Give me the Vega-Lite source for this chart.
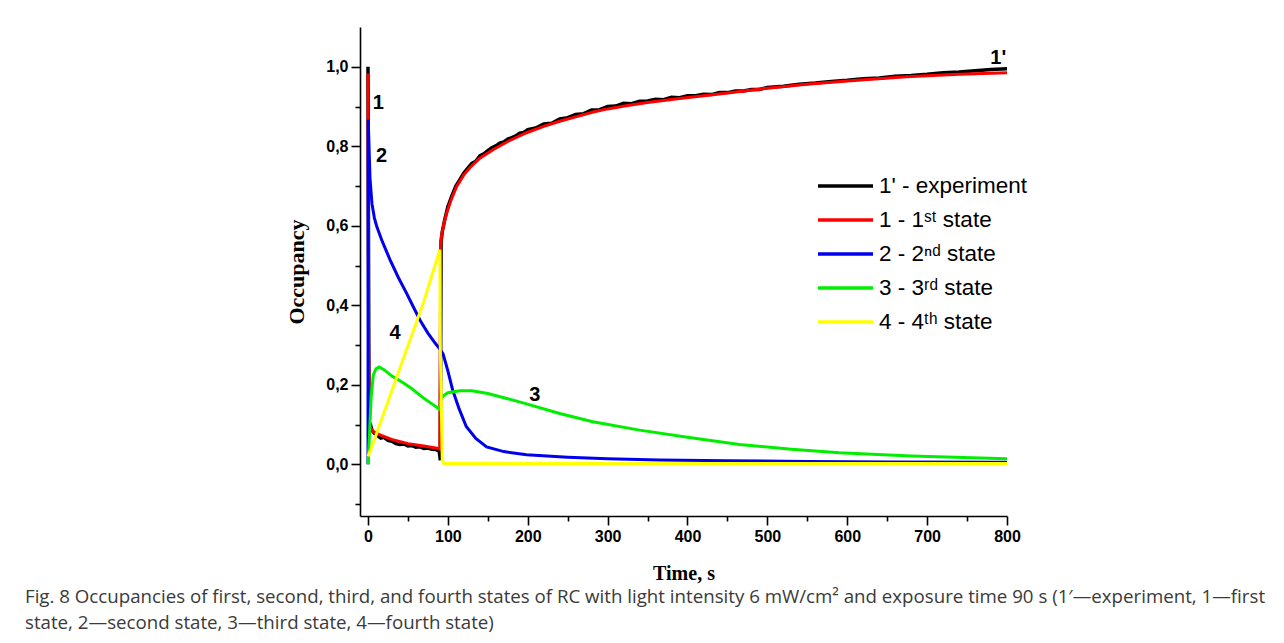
{
  "$schema": "https://vega.github.io/schema/vega-lite/v6.json",
  "autosize": "none",
  "width": 647,
  "height": 489,
  "padding": {"left": 360, "top": 27, "right": 277, "bottom": 127},
  "background": "white",
  "config": {
    "view": {"stroke": null},
    "axis": {"grid": false, "domainColor": "black", "domainWidth": 1.6, "tickColor": "black", "tickWidth": 1.6, "labelColor": "black", "titleColor": "black"}
  },
  "title": {
    "text": [
      "Fig. 8 Occupancies of first, second, third, and fourth states of RC with light intensity 6 mW/cm\u00b2 and exposure time 90 s (1\u2032\u2014experiment, 1\u2014first",
      "state, 2\u2014second state, 3\u2014third state, 4\u2014fourth state)"
    ],
    "orient": "bottom",
    "anchor": "start",
    "frame": "group",
    "dx": -335,
    "offset": 5,
    "font": "Open Sans",
    "fontSize": 18.7,
    "fontWeight": "normal",
    "color": "#3a3a3a",
    "lineHeight": 26
  },
  "datasets": {
    "exp": [
      {"series": "1' - experiment", "t": 0, "v": 1.0},
      {"series": "1' - experiment", "t": 1, "v": 0.3},
      {"series": "1' - experiment", "t": 1.5, "v": 0.105},
      {"series": "1' - experiment", "t": 3, "v": 0.1},
      {"series": "1' - experiment", "t": 5, "v": 0.085},
      {"series": "1' - experiment", "t": 8, "v": 0.078},
      {"series": "1' - experiment", "t": 12, "v": 0.072},
      {"series": "1' - experiment", "t": 16, "v": 0.066},
      {"series": "1' - experiment", "t": 20, "v": 0.068},
      {"series": "1' - experiment", "t": 25, "v": 0.06},
      {"series": "1' - experiment", "t": 30, "v": 0.058},
      {"series": "1' - experiment", "t": 35, "v": 0.052},
      {"series": "1' - experiment", "t": 40, "v": 0.05},
      {"series": "1' - experiment", "t": 45, "v": 0.051},
      {"series": "1' - experiment", "t": 50, "v": 0.046},
      {"series": "1' - experiment", "t": 55, "v": 0.047},
      {"series": "1' - experiment", "t": 60, "v": 0.043},
      {"series": "1' - experiment", "t": 65, "v": 0.044},
      {"series": "1' - experiment", "t": 70, "v": 0.04},
      {"series": "1' - experiment", "t": 75, "v": 0.041},
      {"series": "1' - experiment", "t": 80, "v": 0.038},
      {"series": "1' - experiment", "t": 85, "v": 0.037},
      {"series": "1' - experiment", "t": 89, "v": 0.034},
      {"series": "1' - experiment", "t": 90, "v": 0.02},
      {"series": "1' - experiment", "t": 90.5, "v": 0.01},
      {"series": "1' - experiment", "t": 91, "v": 0.3},
      {"series": "1' - experiment", "t": 91.5, "v": 0.56},
      {"series": "1' - experiment", "t": 93, "v": 0.585},
      {"series": "1' - experiment", "t": 96, "v": 0.615},
      {"series": "1' - experiment", "t": 100, "v": 0.648},
      {"series": "1' - experiment", "t": 105, "v": 0.675},
      {"series": "1' - experiment", "t": 110, "v": 0.7},
      {"series": "1' - experiment", "t": 115, "v": 0.716},
      {"series": "1' - experiment", "t": 120, "v": 0.733},
      {"series": "1' - experiment", "t": 125, "v": 0.745},
      {"series": "1' - experiment", "t": 130, "v": 0.757},
      {"series": "1' - experiment", "t": 135, "v": 0.762},
      {"series": "1' - experiment", "t": 140, "v": 0.776},
      {"series": "1' - experiment", "t": 145, "v": 0.781},
      {"series": "1' - experiment", "t": 150, "v": 0.789},
      {"series": "1' - experiment", "t": 155, "v": 0.796},
      {"series": "1' - experiment", "t": 160, "v": 0.801},
      {"series": "1' - experiment", "t": 165, "v": 0.808},
      {"series": "1' - experiment", "t": 170, "v": 0.811},
      {"series": "1' - experiment", "t": 175, "v": 0.818},
      {"series": "1' - experiment", "t": 180, "v": 0.822},
      {"series": "1' - experiment", "t": 185, "v": 0.826},
      {"series": "1' - experiment", "t": 190, "v": 0.833},
      {"series": "1' - experiment", "t": 195, "v": 0.835},
      {"series": "1' - experiment", "t": 200, "v": 0.842},
      {"series": "1' - experiment", "t": 210, "v": 0.846},
      {"series": "1' - experiment", "t": 220, "v": 0.856},
      {"series": "1' - experiment", "t": 230, "v": 0.858},
      {"series": "1' - experiment", "t": 240, "v": 0.869},
      {"series": "1' - experiment", "t": 250, "v": 0.872},
      {"series": "1' - experiment", "t": 260, "v": 0.88},
      {"series": "1' - experiment", "t": 270, "v": 0.882},
      {"series": "1' - experiment", "t": 280, "v": 0.891},
      {"series": "1' - experiment", "t": 290, "v": 0.892},
      {"series": "1' - experiment", "t": 300, "v": 0.9},
      {"series": "1' - experiment", "t": 310, "v": 0.901},
      {"series": "1' - experiment", "t": 320, "v": 0.908},
      {"series": "1' - experiment", "t": 330, "v": 0.907},
      {"series": "1' - experiment", "t": 340, "v": 0.913},
      {"series": "1' - experiment", "t": 350, "v": 0.914},
      {"series": "1' - experiment", "t": 360, "v": 0.918},
      {"series": "1' - experiment", "t": 370, "v": 0.917},
      {"series": "1' - experiment", "t": 380, "v": 0.923},
      {"series": "1' - experiment", "t": 390, "v": 0.922},
      {"series": "1' - experiment", "t": 400, "v": 0.927},
      {"series": "1' - experiment", "t": 410, "v": 0.927},
      {"series": "1' - experiment", "t": 420, "v": 0.931},
      {"series": "1' - experiment", "t": 430, "v": 0.93},
      {"series": "1' - experiment", "t": 440, "v": 0.935},
      {"series": "1' - experiment", "t": 450, "v": 0.935},
      {"series": "1' - experiment", "t": 460, "v": 0.939},
      {"series": "1' - experiment", "t": 470, "v": 0.939},
      {"series": "1' - experiment", "t": 480, "v": 0.943},
      {"series": "1' - experiment", "t": 490, "v": 0.943},
      {"series": "1' - experiment", "t": 500, "v": 0.948},
      {"series": "1' - experiment", "t": 520, "v": 0.951},
      {"series": "1' - experiment", "t": 540, "v": 0.956},
      {"series": "1' - experiment", "t": 560, "v": 0.959},
      {"series": "1' - experiment", "t": 580, "v": 0.963},
      {"series": "1' - experiment", "t": 600, "v": 0.966},
      {"series": "1' - experiment", "t": 620, "v": 0.97},
      {"series": "1' - experiment", "t": 640, "v": 0.972},
      {"series": "1' - experiment", "t": 660, "v": 0.976},
      {"series": "1' - experiment", "t": 680, "v": 0.978},
      {"series": "1' - experiment", "t": 700, "v": 0.981},
      {"series": "1' - experiment", "t": 720, "v": 0.985},
      {"series": "1' - experiment", "t": 740, "v": 0.987},
      {"series": "1' - experiment", "t": 760, "v": 0.99},
      {"series": "1' - experiment", "t": 780, "v": 0.993},
      {"series": "1' - experiment", "t": 800, "v": 0.995}
    ],
    "s1": [
      {"series": "1 - 1\u02e2\u1d57 state", "t": 0, "v": 0.983},
      {"series": "1 - 1\u02e2\u1d57 state", "t": 0.8, "v": 0.3},
      {"series": "1 - 1\u02e2\u1d57 state", "t": 1.5, "v": 0.1},
      {"series": "1 - 1\u02e2\u1d57 state", "t": 3, "v": 0.092},
      {"series": "1 - 1\u02e2\u1d57 state", "t": 6.7, "v": 0.082},
      {"series": "1 - 1\u02e2\u1d57 state", "t": 15, "v": 0.074},
      {"series": "1 - 1\u02e2\u1d57 state", "t": 32, "v": 0.061},
      {"series": "1 - 1\u02e2\u1d57 state", "t": 50, "v": 0.052},
      {"series": "1 - 1\u02e2\u1d57 state", "t": 70, "v": 0.046},
      {"series": "1 - 1\u02e2\u1d57 state", "t": 88, "v": 0.04},
      {"series": "1 - 1\u02e2\u1d57 state", "t": 90, "v": 0.038},
      {"series": "1 - 1\u02e2\u1d57 state", "t": 90.5, "v": 0.3},
      {"series": "1 - 1\u02e2\u1d57 state", "t": 91, "v": 0.55},
      {"series": "1 - 1\u02e2\u1d57 state", "t": 92, "v": 0.575},
      {"series": "1 - 1\u02e2\u1d57 state", "t": 95, "v": 0.605},
      {"series": "1 - 1\u02e2\u1d57 state", "t": 98.5, "v": 0.632},
      {"series": "1 - 1\u02e2\u1d57 state", "t": 104, "v": 0.665},
      {"series": "1 - 1\u02e2\u1d57 state", "t": 111, "v": 0.699},
      {"series": "1 - 1\u02e2\u1d57 state", "t": 120, "v": 0.728},
      {"series": "1 - 1\u02e2\u1d57 state", "t": 127.5, "v": 0.746},
      {"series": "1 - 1\u02e2\u1d57 state", "t": 140, "v": 0.77},
      {"series": "1 - 1\u02e2\u1d57 state", "t": 157, "v": 0.792},
      {"series": "1 - 1\u02e2\u1d57 state", "t": 175, "v": 0.812},
      {"series": "1 - 1\u02e2\u1d57 state", "t": 198.5, "v": 0.834},
      {"series": "1 - 1\u02e2\u1d57 state", "t": 220, "v": 0.85},
      {"series": "1 - 1\u02e2\u1d57 state", "t": 240, "v": 0.863},
      {"series": "1 - 1\u02e2\u1d57 state", "t": 260, "v": 0.874},
      {"series": "1 - 1\u02e2\u1d57 state", "t": 282, "v": 0.886},
      {"series": "1 - 1\u02e2\u1d57 state", "t": 300, "v": 0.894},
      {"series": "1 - 1\u02e2\u1d57 state", "t": 323, "v": 0.902},
      {"series": "1 - 1\u02e2\u1d57 state", "t": 350, "v": 0.91},
      {"series": "1 - 1\u02e2\u1d57 state", "t": 390, "v": 0.92},
      {"series": "1 - 1\u02e2\u1d57 state", "t": 445, "v": 0.933},
      {"series": "1 - 1\u02e2\u1d57 state", "t": 500, "v": 0.946},
      {"series": "1 - 1\u02e2\u1d57 state", "t": 549, "v": 0.956},
      {"series": "1 - 1\u02e2\u1d57 state", "t": 600, "v": 0.964},
      {"series": "1 - 1\u02e2\u1d57 state", "t": 674, "v": 0.975},
      {"series": "1 - 1\u02e2\u1d57 state", "t": 740, "v": 0.981},
      {"series": "1 - 1\u02e2\u1d57 state", "t": 800, "v": 0.985}
    ],
    "s2": [
      {"series": "2 - 2\u207f\u1d48 state", "t": 0, "v": 0.0},
      {"series": "2 - 2\u207f\u1d48 state", "t": 0.3, "v": 0.867},
      {"series": "2 - 2\u207f\u1d48 state", "t": 1, "v": 0.82},
      {"series": "2 - 2\u207f\u1d48 state", "t": 2.5, "v": 0.72},
      {"series": "2 - 2\u207f\u1d48 state", "t": 5, "v": 0.655},
      {"series": "2 - 2\u207f\u1d48 state", "t": 8, "v": 0.62},
      {"series": "2 - 2\u207f\u1d48 state", "t": 11, "v": 0.598},
      {"series": "2 - 2\u207f\u1d48 state", "t": 18, "v": 0.56},
      {"series": "2 - 2\u207f\u1d48 state", "t": 27.5, "v": 0.515},
      {"series": "2 - 2\u207f\u1d48 state", "t": 38, "v": 0.47},
      {"series": "2 - 2\u207f\u1d48 state", "t": 48.4, "v": 0.43},
      {"series": "2 - 2\u207f\u1d48 state", "t": 57, "v": 0.395},
      {"series": "2 - 2\u207f\u1d48 state", "t": 65, "v": 0.363},
      {"series": "2 - 2\u207f\u1d48 state", "t": 75, "v": 0.33},
      {"series": "2 - 2\u207f\u1d48 state", "t": 84, "v": 0.305},
      {"series": "2 - 2\u207f\u1d48 state", "t": 90, "v": 0.29},
      {"series": "2 - 2\u207f\u1d48 state", "t": 94, "v": 0.278},
      {"series": "2 - 2\u207f\u1d48 state", "t": 100, "v": 0.235},
      {"series": "2 - 2\u207f\u1d48 state", "t": 106, "v": 0.187},
      {"series": "2 - 2\u207f\u1d48 state", "t": 114, "v": 0.14},
      {"series": "2 - 2\u207f\u1d48 state", "t": 123, "v": 0.095},
      {"series": "2 - 2\u207f\u1d48 state", "t": 135, "v": 0.065},
      {"series": "2 - 2\u207f\u1d48 state", "t": 148.5, "v": 0.044},
      {"series": "2 - 2\u207f\u1d48 state", "t": 170, "v": 0.032},
      {"series": "2 - 2\u207f\u1d48 state", "t": 198.5, "v": 0.024},
      {"series": "2 - 2\u207f\u1d48 state", "t": 250, "v": 0.018},
      {"series": "2 - 2\u207f\u1d48 state", "t": 300, "v": 0.014},
      {"series": "2 - 2\u207f\u1d48 state", "t": 365, "v": 0.011},
      {"series": "2 - 2\u207f\u1d48 state", "t": 450, "v": 0.009},
      {"series": "2 - 2\u207f\u1d48 state", "t": 550, "v": 0.007},
      {"series": "2 - 2\u207f\u1d48 state", "t": 650, "v": 0.006},
      {"series": "2 - 2\u207f\u1d48 state", "t": 800, "v": 0.005}
    ],
    "s3": [
      {"series": "3 - 3\u02b3\u1d48 state", "t": 0, "v": 0.0},
      {"series": "3 - 3\u02b3\u1d48 state", "t": 2, "v": 0.08},
      {"series": "3 - 3\u02b3\u1d48 state", "t": 4, "v": 0.17},
      {"series": "3 - 3\u02b3\u1d48 state", "t": 6.7, "v": 0.225},
      {"series": "3 - 3\u02b3\u1d48 state", "t": 10, "v": 0.24},
      {"series": "3 - 3\u02b3\u1d48 state", "t": 14, "v": 0.245},
      {"series": "3 - 3\u02b3\u1d48 state", "t": 20, "v": 0.238},
      {"series": "3 - 3\u02b3\u1d48 state", "t": 30, "v": 0.222},
      {"series": "3 - 3\u02b3\u1d48 state", "t": 44, "v": 0.205},
      {"series": "3 - 3\u02b3\u1d48 state", "t": 55, "v": 0.19},
      {"series": "3 - 3\u02b3\u1d48 state", "t": 70, "v": 0.166},
      {"series": "3 - 3\u02b3\u1d48 state", "t": 80, "v": 0.152},
      {"series": "3 - 3\u02b3\u1d48 state", "t": 90, "v": 0.138},
      {"series": "3 - 3\u02b3\u1d48 state", "t": 91, "v": 0.16},
      {"series": "3 - 3\u02b3\u1d48 state", "t": 94, "v": 0.172},
      {"series": "3 - 3\u02b3\u1d48 state", "t": 100, "v": 0.18},
      {"series": "3 - 3\u02b3\u1d48 state", "t": 115, "v": 0.185},
      {"series": "3 - 3\u02b3\u1d48 state", "t": 130, "v": 0.185},
      {"series": "3 - 3\u02b3\u1d48 state", "t": 150, "v": 0.178},
      {"series": "3 - 3\u02b3\u1d48 state", "t": 175, "v": 0.165},
      {"series": "3 - 3\u02b3\u1d48 state", "t": 198.5, "v": 0.152},
      {"series": "3 - 3\u02b3\u1d48 state", "t": 240, "v": 0.128},
      {"series": "3 - 3\u02b3\u1d48 state", "t": 281.5, "v": 0.107},
      {"series": "3 - 3\u02b3\u1d48 state", "t": 340, "v": 0.086},
      {"series": "3 - 3\u02b3\u1d48 state", "t": 400, "v": 0.068},
      {"series": "3 - 3\u02b3\u1d48 state", "t": 465, "v": 0.05},
      {"series": "3 - 3\u02b3\u1d48 state", "t": 530, "v": 0.038},
      {"series": "3 - 3\u02b3\u1d48 state", "t": 590, "v": 0.029},
      {"series": "3 - 3\u02b3\u1d48 state", "t": 680, "v": 0.021},
      {"series": "3 - 3\u02b3\u1d48 state", "t": 800, "v": 0.014}
    ],
    "s4": [
      {"series": "4 - 4\u1d57\u02b0 state", "t": 0, "v": 0.02},
      {"series": "4 - 4\u1d57\u02b0 state", "t": 5, "v": 0.045},
      {"series": "4 - 4\u1d57\u02b0 state", "t": 20, "v": 0.13},
      {"series": "4 - 4\u1d57\u02b0 state", "t": 45, "v": 0.27},
      {"series": "4 - 4\u1d57\u02b0 state", "t": 70, "v": 0.41},
      {"series": "4 - 4\u1d57\u02b0 state", "t": 90, "v": 0.54},
      {"series": "4 - 4\u1d57\u02b0 state", "t": 90.5, "v": 0.3},
      {"series": "4 - 4\u1d57\u02b0 state", "t": 93, "v": 0.01},
      {"series": "4 - 4\u1d57\u02b0 state", "t": 95, "v": 0.002},
      {"series": "4 - 4\u1d57\u02b0 state", "t": 800, "v": 0.002}
    ],
    "labels": [
      {"t": 13, "v": 0.91, "label": "1"},
      {"t": 17, "v": 0.775, "label": "2"},
      {"t": 34, "v": 0.33, "label": "4"},
      {"t": 209, "v": 0.175, "label": "3"},
      {"t": 789, "v": 1.023, "label": "1'"}
    ]
  },
  "encoding": {
    "x": {
      "field": "t", "type": "quantitative",
      "scale": {"domain": [-10, 800], "nice": false, "zero": false},
      "axis": {
        "title": "Time, s",
        "titleFont": "Liberation Serif", "titleFontSize": 20, "titleFontWeight": "bold", "titlePadding": 19,
        "values": [0, 50, 100, 150, 200, 250, 300, 350, 400, 450, 500, 550, 600, 650, 700, 750, 800],
        "labelExpr": "datum.value % 100 == 0 ? datum.label : ''",
        "labelFont": "Liberation Sans", "labelFontSize": 16, "labelFontWeight": "bold", "labelPadding": 3,
        "labelOverlap": false, "labelFlush": false,
        "tickSize": {"condition": {"test": "datum.value % 100 == 0", "value": 9}, "value": 5}
      }
    },
    "y": {
      "field": "v", "type": "quantitative",
      "scale": {"domain": [-0.13, 1.1], "nice": false, "zero": false},
      "axis": {
        "title": "Occupancy",
        "titleFont": "Liberation Serif", "titleFontSize": 22, "titleFontWeight": "bold", "titlePadding": 17,
        "values": [-0.1, 0, 0.1, 0.2, 0.3, 0.4, 0.5, 0.6, 0.7, 0.8, 0.9, 1.0],
        "labelExpr": "abs(round(datum.value*10)) % 2 == 0 ? replace(format(datum.value, '.1f'), '.', ',') : ''",
        "labelFont": "Liberation Sans", "labelFontSize": 16, "labelFontWeight": "bold", "labelPadding": 3,
        "labelOverlap": false, "labelFlush": false,
        "tickSize": {"condition": {"test": "abs(round(datum.value*10)) % 2 == 0", "value": 9}, "value": 5}
      }
    }
  },
  "layer": [
    {
      "data": {"name": "exp"},
      "mark": {"type": "line", "strokeWidth": 3.5, "clip": true},
      "encoding": {
        "color": {
          "field": "series", "type": "nominal",
          "scale": {
            "domain": ["1' - experiment", "1 - 1\u02e2\u1d57 state", "2 - 2\u207f\u1d48 state", "3 - 3\u02b3\u1d48 state", "4 - 4\u1d57\u02b0 state"],
            "range": ["#000000", "#ff0000", "#0000ee", "#00ee00", "#ffff00"]
          },
          "legend": {
            "title": null, "orient": "none", "legendX": 456, "legendY": 148,
            "symbolType": "stroke", "symbolSize": 3025, "symbolStrokeWidth": 3.5,
            "labelFont": "Liberation Sans", "labelFontSize": 22.5, "labelColor": "black",
            "labelOffset": 4, "clipHeight": 22, "rowPadding": 11, "labelLimit": 400
          }
        }
      }
    },
    {"data": {"name": "s1"}, "mark": {"type": "line", "strokeWidth": 3, "clip": true}, "encoding": {"color": {"field": "series", "type": "nominal"}}},
    {"data": {"name": "s2"}, "mark": {"type": "line", "strokeWidth": 3, "clip": true}, "encoding": {"color": {"field": "series", "type": "nominal"}}},
    {"data": {"name": "s3"}, "mark": {"type": "line", "strokeWidth": 3, "clip": true}, "encoding": {"color": {"field": "series", "type": "nominal"}}},
    {"data": {"name": "s4"}, "mark": {"type": "line", "strokeWidth": 3, "clip": true}, "encoding": {"color": {"field": "series", "type": "nominal"}}},
    {
      "data": {"name": "labels"},
      "mark": {"type": "text", "font": "Liberation Sans", "fontSize": 20, "fontWeight": "bold", "color": "black", "align": "center", "baseline": "middle"},
      "encoding": {"text": {"field": "label", "type": "nominal"}}
    }
  ]
}
